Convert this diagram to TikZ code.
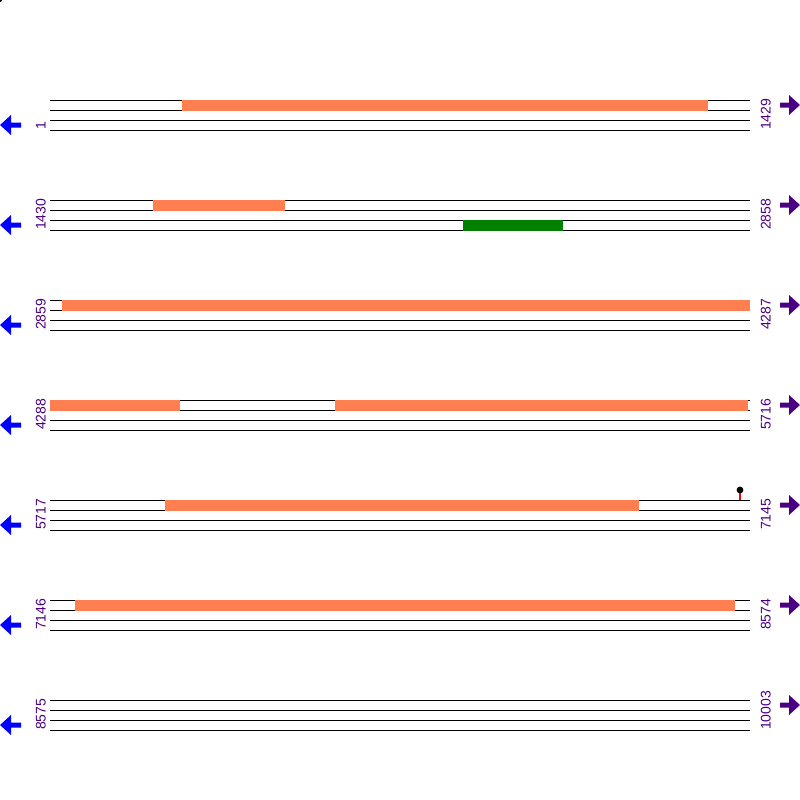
\documentclass[tikz,border=0pt]{standalone}
\usepackage{fontspec}
\setmainfont{Liberation Sans}
\definecolor{coral}{HTML}{FF7F50}
\definecolor{featgreen}{HTML}{008000}
\definecolor{indigo}{HTML}{4B0082}
\definecolor{arrowblue}{HTML}{0000FF}
\begin{document}
\begin{tikzpicture}[x=1pt,y=-1pt,
  trackline/.style={draw=black,line width=1pt},
  coralbar/.style={fill=coral,draw=none},
  greenbar/.style={fill=featgreen,draw=none},
  poslabel/.style={text=indigo,font=\fontsize{14}{14}\selectfont,rotate=90,inner sep=0pt,anchor=base west},
  leftarrow/.style={fill=arrowblue,draw=none},
  rightarrow/.style={fill=indigo,draw=none}]
\useasboundingbox[fill=white] (0,0) rectangle (800,800);
\fill[black] (0,0) circle (2);
% tracks
\foreach \i/\a/\b in {0/1/1429,1/1430/2858,2/2859/4287,3/4288/5716,4/5717/7145,5/7146/8574,6/8575/10003}{
  \pgfmathsetmacro{\yy}{100+100*\i}
  \foreach \k in {0,10,20,30}{
    \draw[trackline] (50,\yy+\k) -- (750,\yy+\k);
  }
  \node[poslabel] (L\i) at (45.5,\yy+30) {\a};
  \node[poslabel] (R\i) at (770.5,\yy+30) {\b};
  \fill[leftarrow] (0,\yy+25) -- (11,\yy+15) -- (11,\yy+22.5) -- (21,\yy+22.5) -- (21,\yy+27.5) -- (11,\yy+27.5) -- (11,\yy+35) -- cycle;
  \fill[rightarrow] (800,\yy+5) -- (789,\yy-5) -- (789,\yy+2.5) -- (780,\yy+2.5) -- (780,\yy+7.5) -- (789,\yy+7.5) -- (789,\yy+15) -- cycle;
}
% features
\fill[coralbar] (182,99.5) rectangle (708,110.5);
\fill[coralbar] (153,199.5) rectangle (285,210.5);
\fill[greenbar] (463,219.5) rectangle (563,230.5);
\fill[coralbar] (62,299.5) rectangle (750,310.5);
\fill[coralbar] (50,399.5) rectangle (180,410.5);
\fill[coralbar] (335,399.5) rectangle (748,410.5);
\fill[coralbar] (165,499.5) rectangle (639,510.5);
\fill[coralbar] (75,599.5) rectangle (735,610.5);
% lollipop
\coordinate (stickbase) at (740,500);
\coordinate (stickhead) at (740,490);
\draw[red,line width=1.2pt] (stickbase) -- (stickhead);
\fill[black] (stickhead) circle (3.4);
\end{tikzpicture}
\end{document}
